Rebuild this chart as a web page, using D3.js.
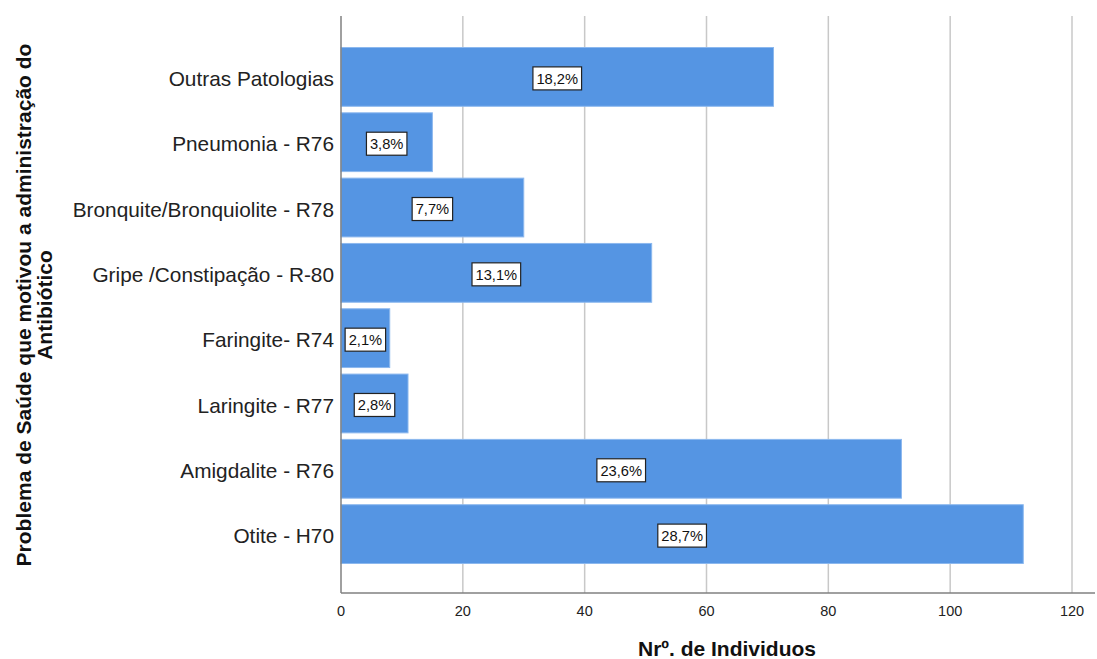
<!DOCTYPE html>
<html>
<head>
<meta charset="utf-8">
<script src="https://cdn.jsdelivr.net/npm/d3@7"></script>
<style>
  body { margin: 0; background: #fff; }
  svg { display: block; font-family: "Liberation Sans", Arial, sans-serif; }
</style>
</head>
<body>
<svg id="chart" width="1097" height="659"></svg>
<script>
// Health problems that led to antibiotic prescription (counts per category)
const categories = [
  "Outras Patologias",
  "Pneumonia - R76",
  "Bronquite/Bronquiolite - R78",
  "Gripe /Constipação - R-80",
  "Faringite- R74",
  "Laringite - R77",
  "Amigdalite - R76",
  "Otite - H70"
];
const counts = [71, 15, 30, 51, 8, 11, 92, 112];
const percentLabels = ["18,2%", "3,8%", "7,7%", "13,1%", "2,1%", "2,8%", "23,6%", "28,7%"];
const xTicks = [0, 20, 40, 60, 80, 100, 120];

const svg = d3.select("#chart");
const plotLeft = 341, plotRight = 1072, plotTop = 16, plotBottom = 593;

const x = d3.scaleLinear().domain([0, 120]).range([plotLeft, plotRight]);
const y = d3.scaleBand().domain(categories).range([47.5, 563.5]).paddingInner(0.1);

// vertical gridlines
svg.append("g").selectAll("line").data(xTicks.filter(d => d > 0)).join("line")
  .attr("x1", d => x(d)).attr("x2", d => x(d))
  .attr("y1", plotTop).attr("y2", plotBottom)
  .attr("stroke", "#c8c8c8").attr("stroke-width", 1.5);

// bars
const rows = categories.map((c, i) => ({ c, v: counts[i], p: percentLabels[i] }));
svg.append("g").selectAll("rect").data(rows).join("rect")
  .attr("x", x(0))
  .attr("y", d => y(d.c))
  .attr("width", d => x(d.v) - x(0))
  .attr("height", y.bandwidth())
  .attr("fill", "#5595e3")
  .attr("stroke", "#8cb8ee")
  .attr("stroke-width", 1);

// axis lines
svg.append("line").attr("x1", plotLeft).attr("x2", plotLeft).attr("y1", plotTop).attr("y2", plotBottom)
  .attr("stroke", "#808080").attr("stroke-width", 1.5);
svg.append("line").attr("x1", plotLeft).attr("x2", 1095).attr("y1", plotBottom).attr("y2", plotBottom)
  .attr("stroke", "#808080").attr("stroke-width", 1.5);

// x tick labels
svg.append("g").selectAll("text").data(xTicks).join("text")
  .attr("x", d => x(d)).attr("y", 616)
  .attr("text-anchor", "middle")
  .attr("font-size", 14.5).attr("fill", "#222")
  .text(d => d);

// category labels
svg.append("g").selectAll("text").data(categories).join("text")
  .attr("x", 334).attr("y", d => y(d) + y.bandwidth() / 2 + 2)
  .attr("dy", "0.35em")
  .attr("text-anchor", "end")
  .attr("font-size", 20.8).attr("fill", "#222")
  .text(d => d);

// percentage boxes
const lbl = svg.append("g").selectAll("g").data(rows).join("g")
  .attr("transform", d => `translate(${(x(0) + x(d.v)) / 2},${y(d.c) + y.bandwidth() / 2 + 1.5})`);
lbl.append("text")
  .attr("text-anchor", "middle").attr("dy", "0.36em")
  .attr("font-size", 14.7).attr("fill", "#111")
  .text(d => d.p)
  .each(function () {
    const b = this.getBBox();
    d3.select(this.parentNode).insert("rect", "text")
      .attr("x", b.x - 3.5).attr("y", -11.5)
      .attr("width", b.width + 7).attr("height", 23)
      .attr("fill", "#fff").attr("stroke", "#222").attr("stroke-width", 1.2);
  });

// axis titles
svg.append("text")
  .attr("x", 727).attr("y", 656)
  .attr("text-anchor", "middle")
  .attr("font-size", 21).attr("font-weight", "bold").attr("fill", "#111")
  .text("Nrº. de Individuos");

const yt = svg.append("text")
  .attr("transform", "translate(31,305) rotate(-90)")
  .attr("text-anchor", "middle")
  .attr("font-size", 21).attr("font-weight", "bold").attr("fill", "#111");
yt.append("tspan").attr("x", 0).attr("y", 0).text("Problema de Saúde que motivou a administração do");
yt.append("tspan").attr("x", 0).attr("y", 21).text("Antibiótico");
</script>
</body>
</html>
